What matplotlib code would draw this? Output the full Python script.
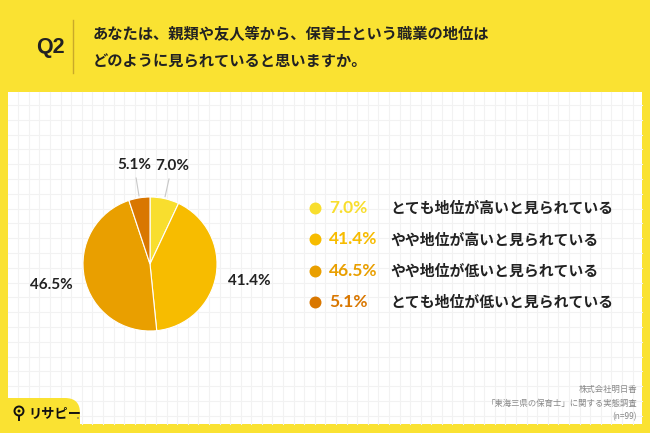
import matplotlib
matplotlib.use("Agg")
import matplotlib.pyplot as plt
from matplotlib.patches import Rectangle, FancyBboxPatch, Circle
import numpy as np

plt.rcParams['font.family'] = ['Noto Sans CJK JP', 'DejaVu Sans']

# data
question = "Q2"
title_lines = ["あなたは、親類や友人等から、保育士という職業の地位は",
               "どのように見られていると思いますか。"]
categories = ["とても地位が高いと見られている",
              "やや地位が高いと見られている",
              "やや地位が低いと見られている",
              "とても地位が低いと見られている"]
values = [7.0, 41.4, 46.5, 5.1]
colors = ["#F8DE2E", "#F7BC00", "#E99F00", "#D97700"]
source_lines = ["株式会社明日香", "「東海三県の保育士」に関する実態調査", "(n=99)"]
logo_text = "リサピー"

YELLOW = "#FAE232"
W, H = 650, 433


def Y(y):
    # image pixel row -> axes y (y up)
    return H - y


fig = plt.figure(figsize=(6.5, 4.33), dpi=100)
fig.patch.set_facecolor(YELLOW)
ax = fig.add_axes([0, 0, 1, 1])

# white panel + grid
ax.add_patch(Rectangle((7.5, Y(424)), 634.5, 332, facecolor="white", edgecolor="none", zorder=0))
for gx in np.arange(18.3, 642, 10.59):
    ax.plot([gx, gx], [Y(92), Y(424)], color="#F2F2F2", lw=0.8, zorder=0.5)
for gy in np.arange(105, 424, 14.8):
    ax.plot([7.5, 642], [Y(gy), Y(gy)], color="#F2F2F2", lw=0.8, zorder=0.5)

# pie
cx, cy, r = 150, Y(264), 67
wedges, texts, autotexts = ax.pie(values, colors=colors, startangle=90, counterclock=False,
                                  center=(cx, cy), radius=r, autopct='%.1f%%', pctdistance=1.5,
                                  wedgeprops=dict(edgecolor="white", linewidth=0.8),
                                  textprops=dict(fontsize=11, color="#222222", fontweight="bold",
                                                 family=["Lato", "DejaVu Sans"]),
                                  frame=True)
for w in wedges:
    w.set_zorder(2)
for t in autotexts:
    t.set_zorder(3)

# leader lines for the small slices
for i in [0, 3]:
    a = np.deg2rad((wedges[i].theta1 + wedges[i].theta2) / 2)
    ax.plot([cx + 1.03 * r * np.cos(a), cx + 1.3 * r * np.cos(a)],
            [cy + 1.03 * r * np.sin(a), cy + 1.3 * r * np.sin(a)],
            color="#C8C8C8", lw=0.8, zorder=2)

# legend
for i, (cat, v) in enumerate(zip(categories, values)):
    ly = Y(208 + 31.3 * i)
    ax.scatter([315], [ly], s=74, color=colors[i], zorder=3, linewidths=0)
    ax.text(329, ly, f"{v:.1f}%", color=colors[i], fontsize=12.5, fontweight="bold",
            va="center", ha="left", zorder=3, family=["Lato", "DejaVu Sans"])
    ax.text(390, ly, cat, color="#222222", fontsize=10.7, fontweight="bold",
            va="center", ha="left", zorder=3)

# header
ax.text(50, Y(48), question, fontsize=15.5, fontweight="bold", color="#222222",
        ha="center", va="center", family=["Liberation Sans", "DejaVu Sans"])
ax.plot([73, 73], [Y(20), Y(73)], color="#C9A92A", lw=1)
ax.text(93, Y(34), title_lines[0], fontsize=11, fontweight="bold", color="#222222", va="center")
ax.text(93, Y(61), title_lines[1], fontsize=11, fontweight="bold", color="#222222", va="center")

# source
for j, s in enumerate(source_lines):
    ax.text(637, Y(389 + 14 * j), s, fontsize=6, color="#888888", ha="right", va="center")

# logo tab
ax.add_patch(FancyBboxPatch((-20, -20), 100, Y(398) + 20,
                            boxstyle="round,pad=0,rounding_size=15",
                            facecolor=YELLOW, edgecolor="none", zorder=4))
ax.add_patch(Circle((19, Y(411)), 4.5, facecolor="none", edgecolor="#111111", lw=1.4, zorder=5))
ax.add_patch(Circle((19, Y(411)), 1.5, facecolor="#111111", edgecolor="none", zorder=5))
ax.plot([19, 19], [Y(415.5), Y(420)], color="#111111", lw=1.4, zorder=5)
ax.text(28, Y(413), logo_text, fontsize=9.5, fontweight="bold", color="#111111",
        va="center", ha="left", zorder=5)
ax.add_patch(Circle((78, Y(418)), 0.8, facecolor="#555555", edgecolor="none", zorder=5))

ax.set_xlim(0, W)
ax.set_ylim(0, H)
ax.axis("off")

fig.savefig("out.png", dpi=100, facecolor=YELLOW)
